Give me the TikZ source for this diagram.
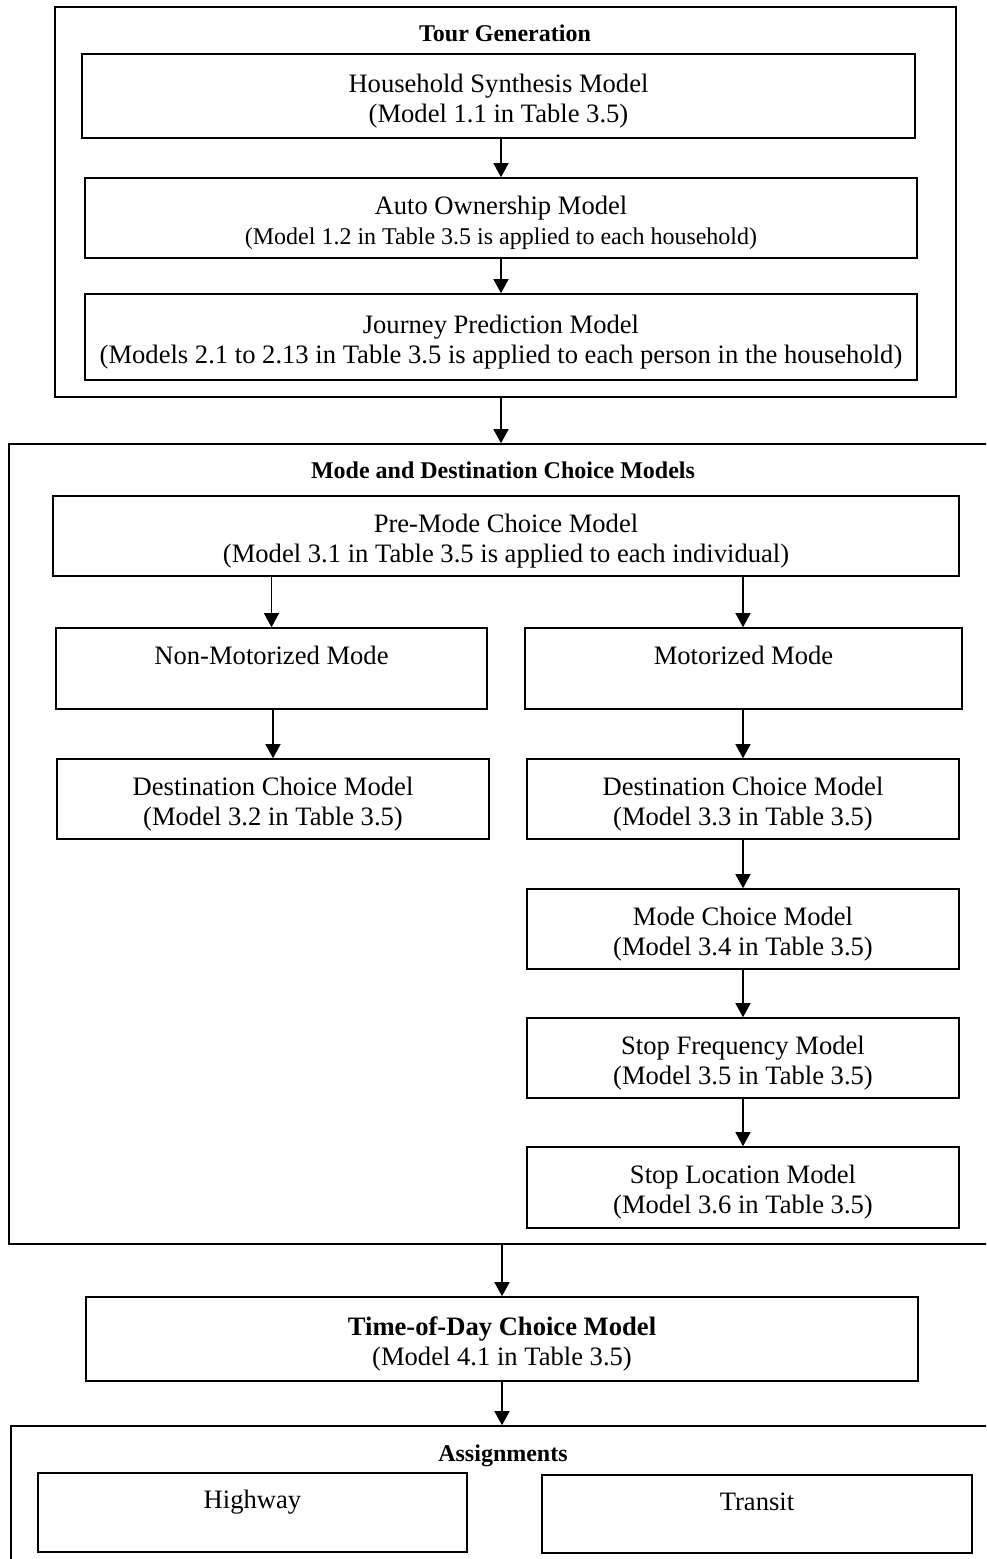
\documentclass[tikz,border=0pt]{standalone}
\usepackage{fontspec}
\setmainfont{Liberation Serif}
\usetikzlibrary{arrows.meta}
\tikzset{
  box/.style={draw, line width=0.8pt, inner sep=0pt, font=\fontsize{13.3}{15}\selectfont},
  frame/.style={draw, line width=0.8pt, inner sep=0pt},
  title/.style={font=\fontsize{12}{14}\selectfont\bfseries},
  arr/.style={-{Triangle[length=7pt,width=7.5pt]}, line width=0.65pt}
}
\newcommand{\boxtext}[1]{\raisebox{-2.6pt}[\height][\depth]{\begin{tabular}{@{}c@{}}#1\end{tabular}}}
\newcommand{\smallnote}[1]{{\fontsize{12}{14}\selectfont #1}}
\begin{document}
\begin{tikzpicture}[x=0.5pt,y=-0.5pt]
\clip (0,0) rectangle (986,1559);
\node[frame, minimum width=450.5pt, minimum height=195pt] (tour) at (505.5,202) {};
\node[title] (tourtitle) at (505,33) {Tour Generation};
\node[box, minimum width=416.5pt, minimum height=42pt] (house) at (498.5,96) {\boxtext{Household Synthesis Model\\(Model 1.1 in Table 3.5)}};
\node[box, minimum width=416pt, minimum height=40pt] (auto) at (501,218) {\boxtext{Auto Ownership Model\\\smallnote{(Model 1.2 in Table 3.5 is applied to each household)}}};
\node[box, minimum width=416pt, minimum height=43pt] (journey) at (501,337) {\boxtext{Journey Prediction Model\\(Models 2.1 to 2.13 in Table 3.5 is applied to each person in the household)}};
\draw[arr] (house.south -| auto.north) -- (auto.north);
\draw[arr] (auto.south) -- (journey.north);

\node[frame, minimum width=500.5pt, minimum height=400pt] (mode) at (509.5,844) {};
\node[title] (modetitle) at (503,470) {Mode and Destination Choice Models};
\node[box, minimum width=453pt, minimum height=40pt] (premode) at (506,536) {\boxtext{Pre-Mode Choice Model\\(Model 3.1 in Table 3.5 is applied to each individual)}};
\node[box, minimum width=215.5pt, minimum height=40.5pt] (nonmot) at (271.5,668.5) {\boxtext{Non-Motorized Mode\\\mbox{}}};
\node[box, minimum width=218.5pt, minimum height=40.5pt] (mot) at (743.5,668.5) {\boxtext{Motorized Mode\\\mbox{}}};
\node[box, minimum width=216pt, minimum height=40pt] (destnm) at (273,799) {\boxtext{Destination Choice Model\\(Model 3.2 in Table 3.5)}};
\node[box, minimum width=216pt, minimum height=40pt] (destm) at (743,799) {\boxtext{Destination Choice Model\\(Model 3.3 in Table 3.5)}};
\node[box, minimum width=216pt, minimum height=40pt] (modech) at (743,929) {\boxtext{Mode Choice Model\\(Model 3.4 in Table 3.5)}};
\node[box, minimum width=216pt, minimum height=40pt] (stopfreq) at (743,1058) {\boxtext{Stop Frequency Model\\(Model 3.5 in Table 3.5)}};
\node[box, minimum width=216pt, minimum height=40.5pt] (stoploc) at (743,1187.5) {\boxtext{Stop Location Model\\(Model 3.6 in Table 3.5)}};
\draw[arr] (premode.south -| nonmot.north) -- (nonmot.north);
\draw[arr] (premode.south -| destm.north) -- (destm.north |- mot.north);
\draw[arr] (nonmot.south -| destnm.north) -- (destnm.north);
\draw[arr] (destm.north |- mot.south) -- (destm.north);
\draw[arr] (destm.south) -- (modech.north);
\draw[arr] (modech.south) -- (stopfreq.north);
\draw[arr] (stopfreq.south) -- (stoploc.north);
\draw[arr] (tour.south -| journey.south) -- (journey.south |- mode.north);

\node[box, minimum width=416pt, minimum height=42pt] (tod) at (502,1339) {\boxtext{\textbf{Time-of-Day Choice Model}\\(Model 4.1 in Table 3.5)}};
\draw[arr] (tod.north |- mode.south) -- (tod.north);

\node[frame, minimum width=499.5pt, minimum height=97pt] (assign) at (510.5,1523) {};
\node[title] (assigntitle) at (503,1456) {Assignments};
\node[box, minimum width=214.5pt, minimum height=39.5pt] (highway) at (252.5,1512.5) {\boxtext{Highway\\\mbox{}}};
\node[box, minimum width=215pt, minimum height=39pt] (transit) at (757,1514) {\boxtext{Transit\\\mbox{}}};
\draw[arr] (tod.south) -- (tod.south |- assign.north);
\end{tikzpicture}
\end{document}
